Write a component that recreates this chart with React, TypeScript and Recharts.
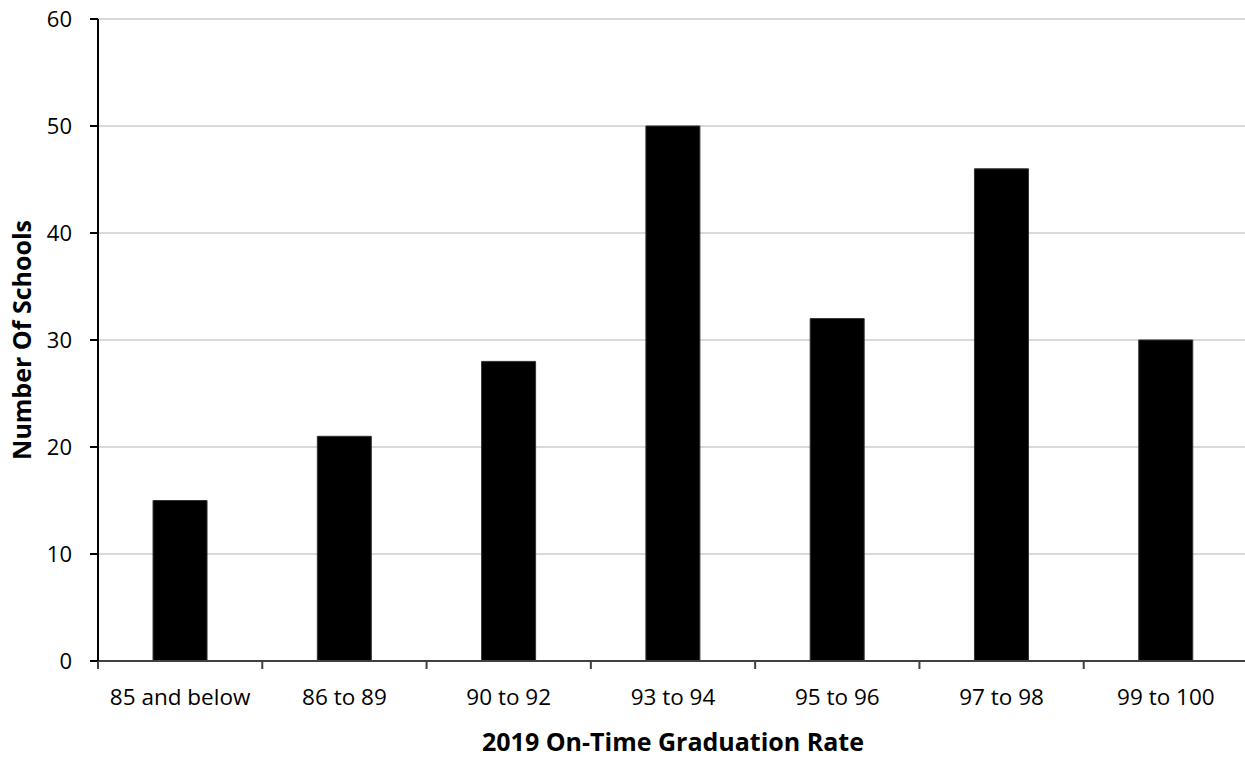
import React from "react";
import { BarChart, Bar, XAxis, YAxis, CartesianGrid, Label } from "recharts";

const categories = ["85 and below", "86 to 89", "90 to 92", "93 to 94", "95 to 96", "97 to 98", "99 to 100"];
const schoolCounts = [15, 21, 28, 50, 32, 46, 30];
const yTicks = [0, 10, 20, 30, 40, 50, 60];

const data = categories.map((c, i) => ({ category: c, count: schoolCounts[i] }));

const FONT = "'Open Sans', 'Noto Sans', sans-serif";
const CHART_W = 1248;
const Y_AXIS_W = 98;
const HALF_BAND = (CHART_W - Y_AXIS_W) / categories.length / 2;

function CategoryTick(props: any) {
  const { x, y, payload } = props;
  return (
    <g>
      <line x1={x - HALF_BAND} x2={x - HALF_BAND} y1={y} y2={y + 8} stroke="#404040" strokeWidth={2} />
      <text
        x={x}
        y={y + 44}
        textAnchor="middle"
        fill="#000"
        fontSize={22.5}
        fontFamily={FONT}
      >
        {payload.value}
      </text>
    </g>
  );
}

export default function App() {
  return (
    <div style={{ position: "absolute", left: 0, top: 0, width: 1245, height: 759, background: "#fff", overflow: "hidden" }}>
      <BarChart
        width={CHART_W}
        height={759}
        data={data}
        margin={{ top: 19, right: 0, bottom: 0, left: 0 }}
        barCategoryGap="33.5%"
      >
        <CartesianGrid vertical={false} stroke="#d9d9d9" strokeWidth={2} />
        <XAxis
          dataKey="category"
          height={98}
          interval={0}
          stroke="#404040"
          strokeWidth={2}
          tickLine={false}
          tickSize={0}
          tickMargin={0}
          tick={<CategoryTick />}
          scale="band"
        >
          <Label
            value="2019 On-Time Graduation Rate"
            position="insideBottom"
            offset={8}
            style={{ fill: "#000", fontSize: 25, fontWeight: 700, fontFamily: FONT }}
          />
        </XAxis>
        <YAxis
          domain={[0, 60]}
          ticks={yTicks}
          width={Y_AXIS_W}
          stroke="#000"
          strokeWidth={2}
          tickSize={8}
          tickMargin={18}
          tick={{ fill: "#000", fontSize: 22, fontFamily: FONT }}
        >
          <Label
            value="Number Of Schools"
            angle={-90}
            position="insideLeft"
            offset={22}
            style={{ fill: "#000", fontSize: 25, fontWeight: 700, fontFamily: FONT, textAnchor: "middle" }}
          />
        </YAxis>
        <Bar dataKey="count" fill="#000" stroke="#333" strokeWidth={1} isAnimationActive={false} />
      </BarChart>
    </div>
  );
}
